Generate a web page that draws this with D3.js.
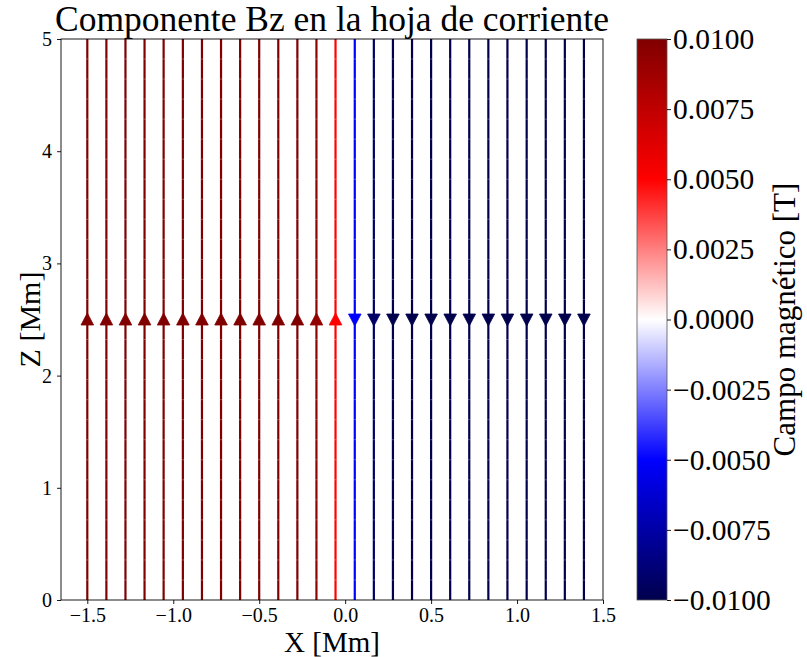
<!DOCTYPE html>
<html>
<head>
<meta charset="utf-8">
<script src="https://cdn.jsdelivr.net/npm/d3@7"></script>
<style>
  html, body { margin: 0; padding: 0; background: #fff; }
  svg { display: block; }
  text { font-family: "Liberation Serif", "Times New Roman", serif; fill: #000; }
</style>
</head>
<body>
<script>
// Field lines of the current sheet: horizontal position [Mm] and Bz [T] on each line
const lineX = [-1.5, -1.389, -1.278, -1.167, -1.056, -0.944, -0.833, -0.722, -0.611, -0.5,
               -0.389, -0.278, -0.167, -0.056, 0.056, 0.167, 0.278, 0.389, 0.5, 0.611,
               0.722, 0.833, 0.944, 1.056, 1.167, 1.278, 1.389];
const lineBz = [0.0100, 0.0100, 0.0100, 0.0100, 0.0100, 0.0100, 0.0100, 0.0100, 0.0100, 0.0100,
                0.0100, 0.0100, 0.0093, 0.0050, -0.0050, -0.0093, -0.0100, -0.0100, -0.0100, -0.0100,
                -0.0100, -0.0100, -0.0100, -0.0100, -0.0100, -0.0100, -0.0100];
const arrowZ = 2.5;
const zRange = [0, 5];

const xTicks = [-1.5, -1.0, -0.5, 0.0, 0.5, 1.0, 1.5];
const zTicks = [0, 1, 2, 3, 4, 5];
const cbTicks = [0.0100, 0.0075, 0.0050, 0.0025, 0.0000, -0.0025, -0.0050, -0.0075, -0.0100];

const titleText = "Componente Bz en la hoja de corriente";
const xLabel = "X [Mm]";
const zLabel = "Z [Mm]";
const cbLabel = "Campo magnético [T]";

const W = 807, H = 657;
const plot = { left: 61, right: 603, top: 39, bottom: 600 };
const cb = { left: 637, right: 667, top: 39, bottom: 600 };

const svg = d3.select("body").append("svg").attr("width", W).attr("height", H);

const x = d3.scaleLinear().domain([-1.653, 1.5]).range([plot.left, plot.right]);
const z = d3.scaleLinear().domain(zRange).range([plot.bottom, plot.top]);

// seismic colormap
const seismic = d3.scaleLinear()
  .domain([-0.01, -0.005, 0, 0.005, 0.01])
  .range(["rgb(0,0,77)", "rgb(0,0,255)", "rgb(255,255,255)", "rgb(255,0,0)", "rgb(128,0,0)"])
  .interpolate(d3.interpolateRgb)
  .clamp(true);

const fmt = v => v.toFixed(1).replace("-", "\u2212");
const fmtCb = v => (Math.abs(v) < 1e-12 ? "0.0000" : v.toFixed(4)).replace("-", "\u2212");

// field lines
const lines = svg.append("g");
const joinStep = 5 / 28;
lineX.forEach((lx, i) => {
  const col = seismic(lineBz[i]);
  const px = x(lx);
  lines.append("line")
    .attr("x1", px).attr("x2", px)
    .attr("y1", z(zRange[0])).attr("y2", z(zRange[1]))
    .attr("stroke", col).attr("stroke-width", 2.2);
  // faint joins between consecutive streamline segments
  d3.range(joinStep, zRange[1], joinStep).forEach(zz => {
    lines.append("line")
      .attr("x1", px - 1.1).attr("x2", px + 1.1)
      .attr("y1", z(zz)).attr("y2", z(zz))
      .attr("stroke", "#fff").attr("stroke-opacity", 0.3).attr("stroke-width", 1);
  });
  // arrow head showing field direction
  const dir = lineBz[i] >= 0 ? -1 : 1; // screen direction: up for positive Bz
  const cy = z(arrowZ);
  const tip = cy + dir * 6.5, base = cy - dir * 5.5;
  lines.append("path")
    .attr("d", `M${px},${tip} L${px - 6.3},${base} L${px + 6.3},${base} Z`)
    .attr("fill", col).attr("stroke", col).attr("stroke-width", 0.8).attr("stroke-linejoin", "miter");
});

// axes frame
svg.append("rect")
  .attr("x", plot.left).attr("y", plot.top)
  .attr("width", plot.right - plot.left).attr("height", plot.bottom - plot.top)
  .attr("fill", "none").attr("stroke", "#000").attr("stroke-width", 0.9);

// x axis
const xAxis = d3.axisBottom(x).tickValues(xTicks).tickFormat(fmt).tickSize(4).tickPadding(4);
const gx = svg.append("g").attr("transform", `translate(0,${plot.bottom})`).call(xAxis);
gx.select(".domain").remove();
gx.selectAll(".tick line").attr("stroke", "#000").attr("stroke-width", 0.9);
gx.selectAll(".tick text").attr("font-size", 20).attr("font-family", "Liberation Serif").attr("fill", "#000");

// z axis
const zAxis = d3.axisLeft(z).tickValues(zTicks).tickFormat(d3.format("d")).tickSize(4).tickPadding(5);
const gz = svg.append("g").attr("transform", `translate(${plot.left},0)`).call(zAxis);
gz.select(".domain").remove();
gz.selectAll(".tick line").attr("stroke", "#000").attr("stroke-width", 0.9);
gz.selectAll(".tick text").attr("font-size", 20).attr("font-family", "Liberation Serif").attr("fill", "#000");

// titles
svg.append("text").attr("x", (plot.left + plot.right) / 2).attr("y", 31)
  .attr("text-anchor", "middle").attr("font-size", 35.5).text(titleText);
svg.append("text").attr("x", (plot.left + plot.right) / 2).attr("y", 652)
  .attr("text-anchor", "middle").attr("font-size", 29).text(xLabel);
svg.append("text").attr("transform", `translate(40,${(plot.top + plot.bottom) / 2}) rotate(-90)`)
  .attr("text-anchor", "middle").attr("font-size", 30).text(zLabel);

// colorbar
const defs = svg.append("defs");
const grad = defs.append("linearGradient").attr("id", "cbgrad")
  .attr("x1", 0).attr("y1", 1).attr("x2", 0).attr("y2", 0);
d3.range(0, 1.0001, 0.05).forEach(t => {
  grad.append("stop").attr("offset", t).attr("stop-color", seismic(-0.01 + 0.02 * t));
});
const cbScale = d3.scaleLinear().domain([-0.01, 0.01]).range([cb.bottom, cb.top]);
svg.append("rect")
  .attr("x", cb.left).attr("y", cb.top)
  .attr("width", cb.right - cb.left).attr("height", cb.bottom - cb.top)
  .attr("fill", "url(#cbgrad)").attr("stroke", "#555").attr("stroke-width", 0.8);
const cbAxis = d3.axisRight(cbScale).tickValues(cbTicks).tickFormat(fmtCb).tickSize(4).tickPadding(2);
const gc = svg.append("g").attr("transform", `translate(${cb.right},0)`).call(cbAxis);
gc.select(".domain").remove();
gc.selectAll(".tick line").attr("stroke", "#000").attr("stroke-width", 0.9);
gc.selectAll(".tick text").attr("font-size", 29.5).attr("font-family", "Liberation Serif").attr("fill", "#000");
svg.append("text").attr("transform", `translate(795,${(cb.top + cb.bottom) / 2}) rotate(-90)`)
  .attr("text-anchor", "middle").attr("font-size", 31).text(cbLabel);
</script>
</body>
</html>
